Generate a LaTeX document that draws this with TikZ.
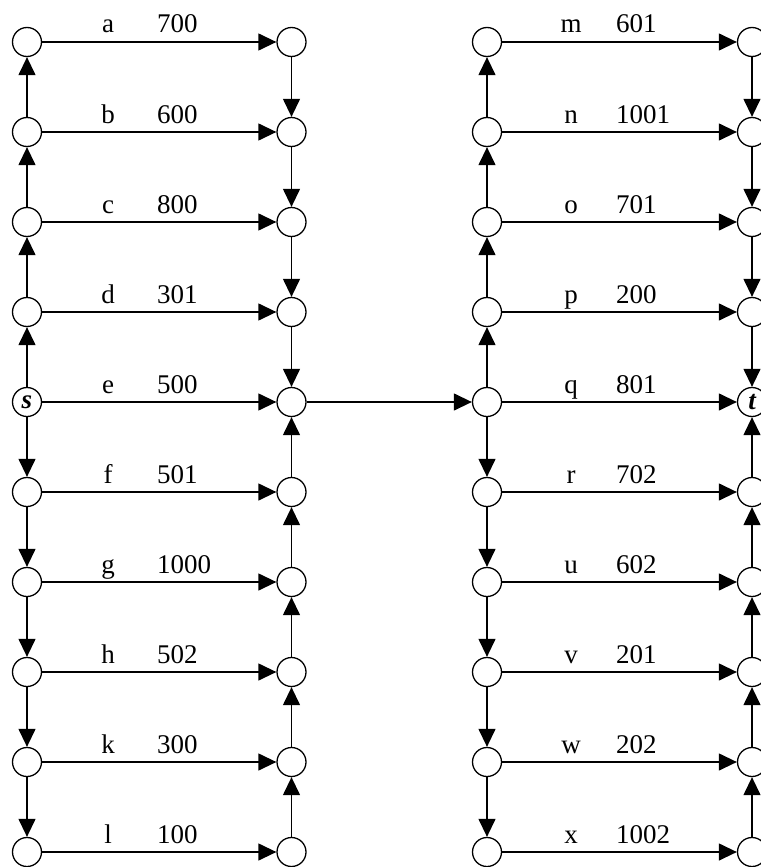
\documentclass[tikz,border=0pt]{standalone}
\usepackage{fontspec}
\setmainfont{Liberation Serif}
\usetikzlibrary{arrows.meta}
\begin{document}
\begin{tikzpicture}[x=1pt,y=-1pt,
  vtx/.style={circle,draw,line width=1.3pt,minimum size=29pt,inner sep=0pt,font=\fontsize{27}{27}\selectfont\bfseries\itshape},
  edge/.style={line width=1.3pt,-{Triangle[length=18pt,width=17pt]}},
  lbl/.style={font=\fontsize{27}{27}\selectfont,inner sep=0pt}]
\useasboundingbox (0,0) rectangle (760,867);
% nodes
\foreach \i in {1,...,10}{
  \pgfmathsetmacro{\yy}{42+90*(\i-1)}
  \ifnum\i=5
    \node[vtx] (L\i) at (27,\yy) {s};
    \node[vtx] (T\i) at (752,\yy) {t};
  \else
    \node[vtx] (L\i) at (27,\yy) {};
    \node[vtx] (T\i) at (752,\yy) {};
  \fi
  \node[vtx] (M\i) at (291.5,\yy) {};
  \node[vtx] (N\i) at (487,\yy) {};
  \draw[edge] (L\i) -- (M\i);
  \draw[edge] (N\i) -- (T\i);
}
% vertical chains
\foreach \a/\b in {5/4,4/3,3/2,2/1,5/6,6/7,7/8,8/9,9/10}{
  \draw[edge] (L\a) -- (L\b);
  \draw[edge] (N\a) -- (N\b);
}
\foreach \a/\b in {1/2,2/3,3/4,4/5,10/9,9/8,8/7,7/6,6/5}{
  \draw[edge] (M\a) -- (M\b);
  \draw[edge] (T\a) -- (T\b);
}
\draw[edge] (M5) -- (N5);
% labels
\foreach \i/\l/\n in {1/a/700,2/b/600,3/c/800,4/d/301,5/e/500,6/f/501,7/g/1000,8/h/502,9/k/300,10/l/100}{
  \pgfmathsetmacro{\yy}{33+90*(\i-1)}
  \node[lbl,anchor=base] (la\i) at (108,\yy) {\l};
  \node[lbl,anchor=base west] (na\i) at (157,\yy) {\n};
}
\foreach \i/\l/\n in {1/m/601,2/n/1001,3/o/701,4/p/200,5/q/801,6/r/702,7/u/602,8/v/201,9/w/202,10/x/1002}{
  \pgfmathsetmacro{\yy}{33+90*(\i-1)}
  \node[lbl,anchor=base] (lb\i) at (571,\yy) {\l};
  \node[lbl,anchor=base west] (nb\i) at (616,\yy) {\n};
}
\end{tikzpicture}
\end{document}
